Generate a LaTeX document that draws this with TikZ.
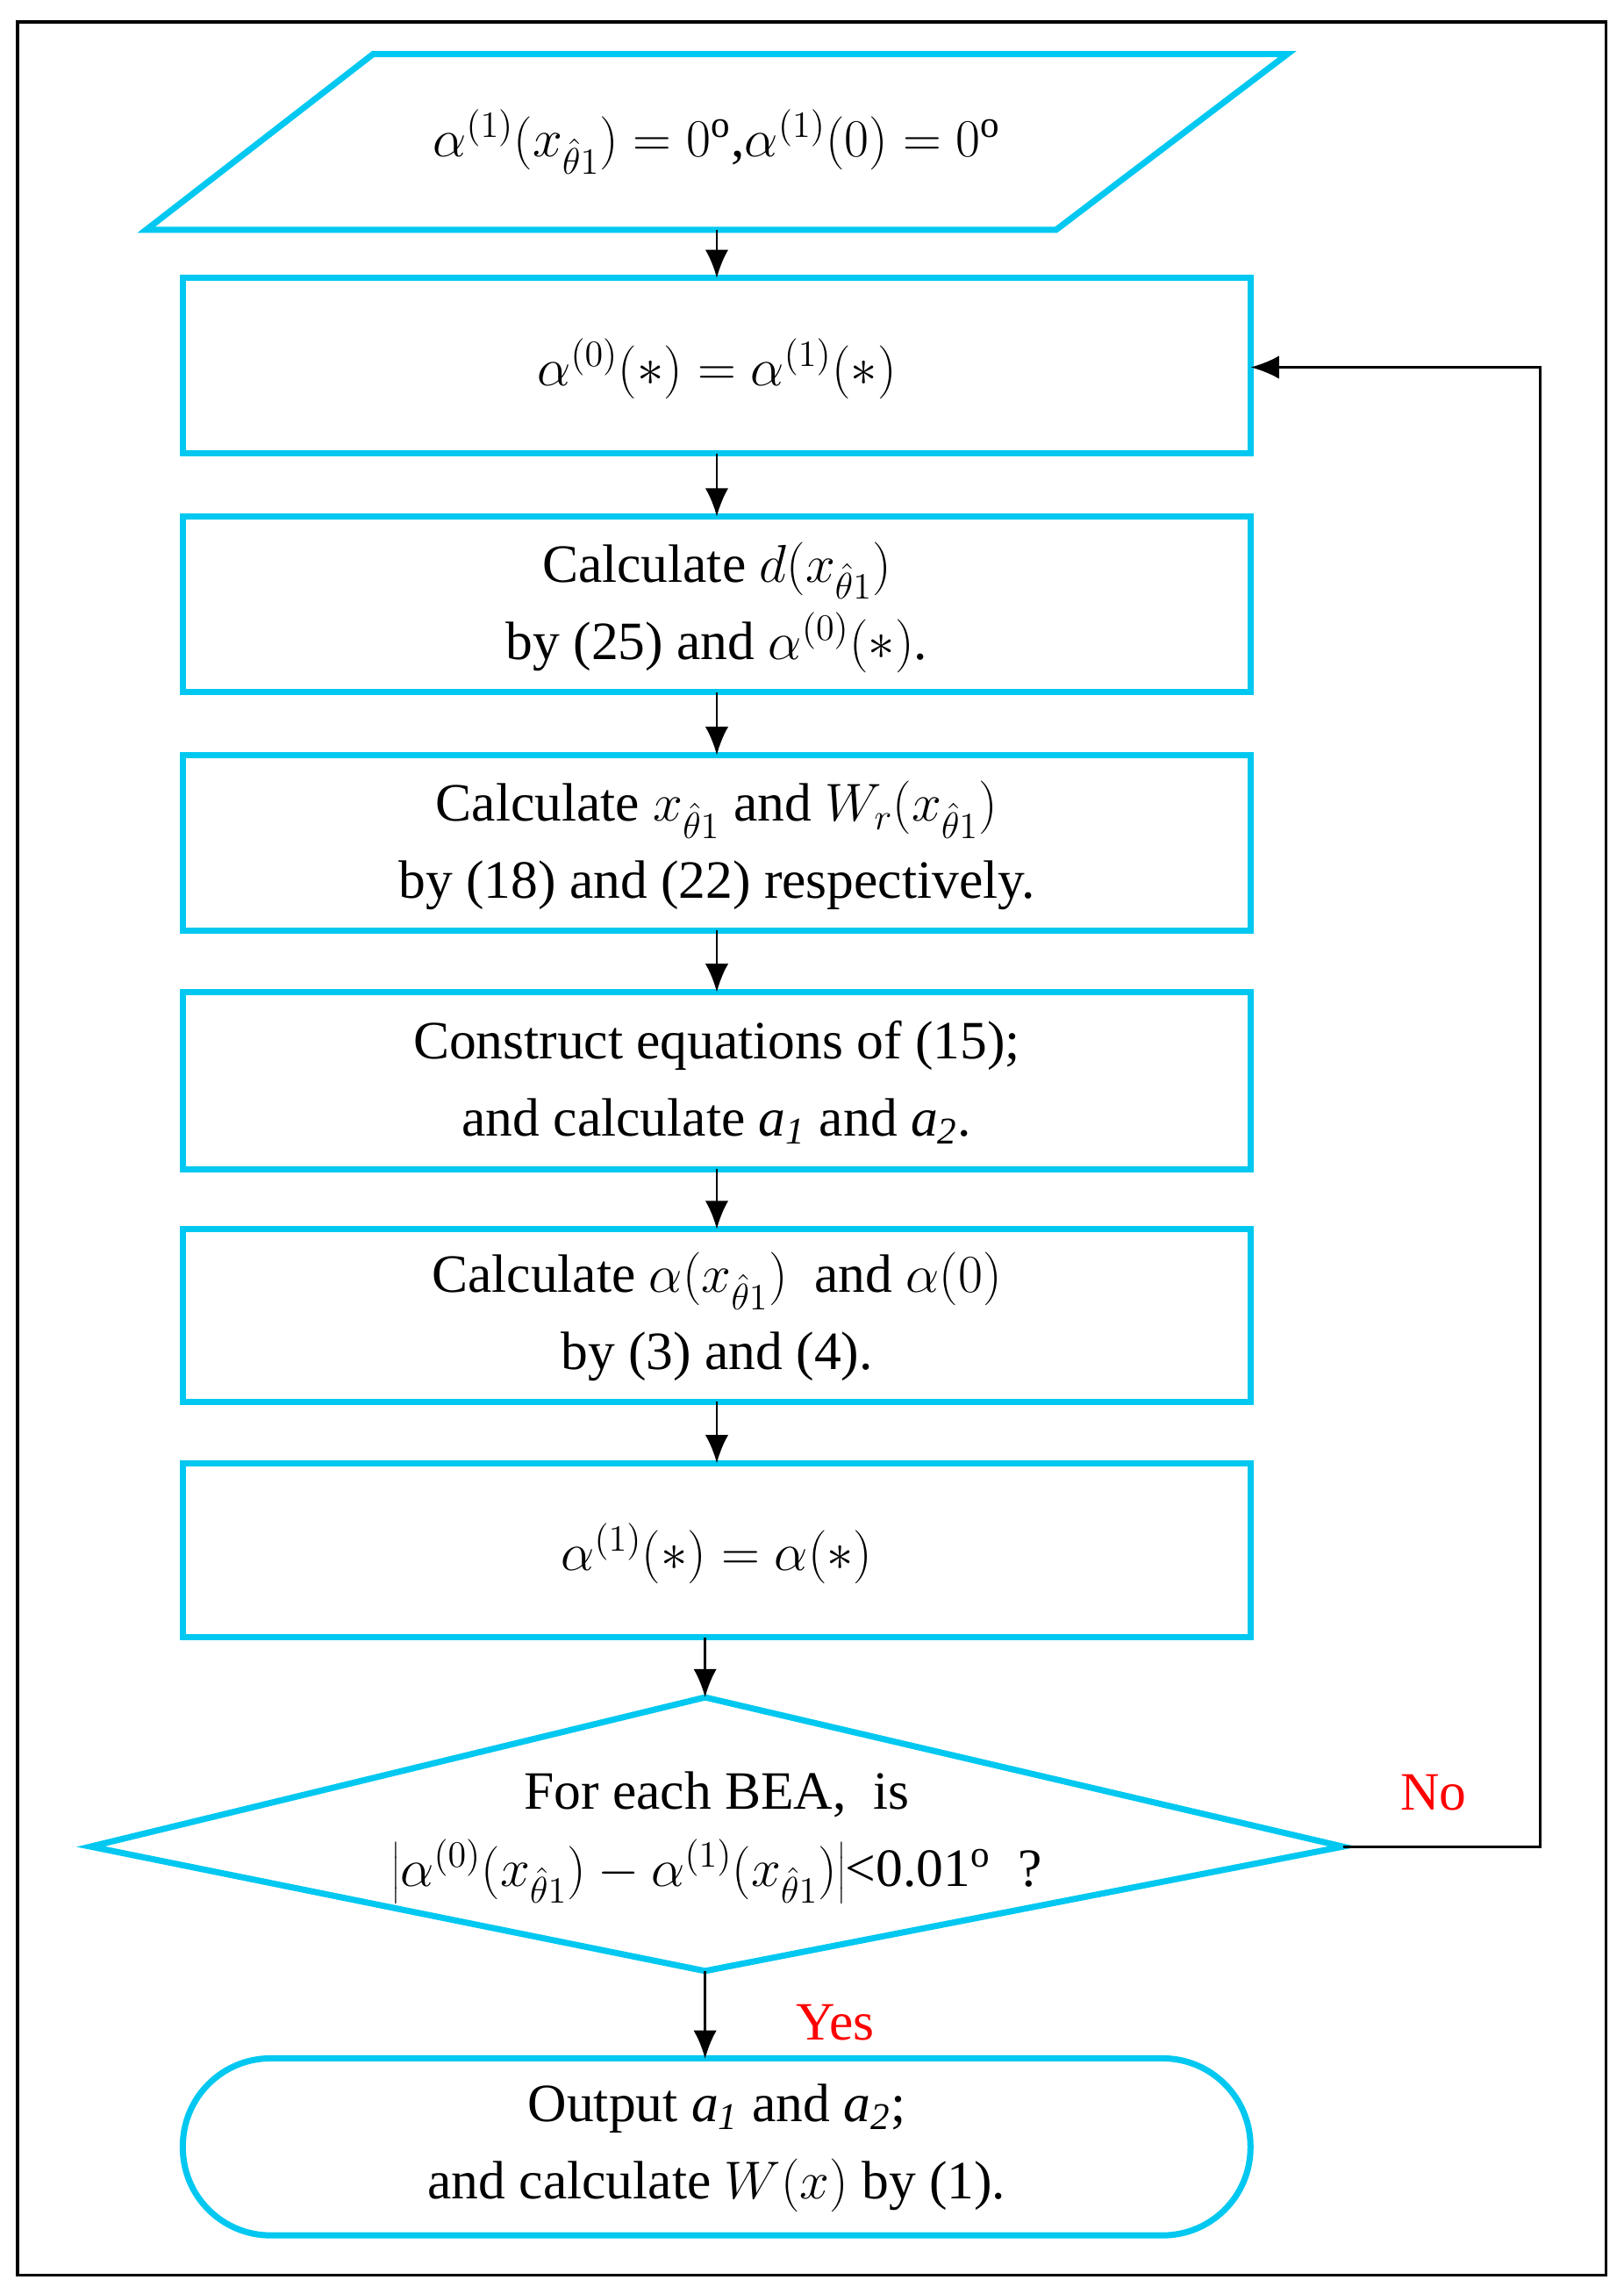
\documentclass[tikz,border=0pt]{standalone}
\usepackage{fontspec}
\setmainfont{Liberation Serif}
\usetikzlibrary{arrows.meta}
\definecolor{cy}{RGB}{0,200,240}
\begin{document}
\begin{tikzpicture}[x=0.02cm,y=-0.02cm,
  sh/.style={draw=cy,line width=2.4pt},
  ar/.style={-{Latex[length=11pt,width=9pt]},line width=1pt},
  tx/.style={font=\fontsize{21}{30}\selectfont,align=center}]
\useasboundingbox (0,0) rectangle (1110,1563);
\draw[line width=1.2pt] (12,15) rectangle (1098,1555);
\draw[sh] (255,37) -- (880,37) -- (722,157) -- (100,157) -- cycle;
\node[tx] (p) at (490,97) {$\alpha^{(1)}(x_{\hat\theta1})=0^{\mathrm o}$,$\alpha^{(1)}(0)=0^{\mathrm o}$};
\coordinate (pb) at (490,157);
\draw[sh] (125,190) rectangle (855,310); \coordinate (b1t) at (490,190); \coordinate (b1b) at (490,310); \coordinate (b1r) at (855,251);
\node[tx] at (490,252) {$\alpha^{(0)}(*)=\alpha^{(1)}(*)$};
\draw[sh] (125,353) rectangle (855,473); \coordinate (b2t) at (490,353); \coordinate (b2b) at (490,473);
\node[tx] at (490,415) {Calculate $d(x_{\hat\theta1})$\\ by (25) and $\alpha^{(0)}(*)$.};
\draw[sh] (125,516) rectangle (855,636); \coordinate (b3t) at (490,516); \coordinate (b3b) at (490,636);
\node[tx] at (490,578) {Calculate $x_{\hat\theta1}$ and $W_r(x_{\hat\theta1})$\\ by (18) and (22) respectively.};
\draw[sh] (125,678) rectangle (855,799); \coordinate (b4t) at (490,678); \coordinate (b4b) at (490,799);
\node[tx] at (490,740) {Construct equations of (15);\\ and calculate \textit{a\textsubscript{1}} and \textit{a\textsubscript{2}}.};
\draw[sh] (125,840) rectangle (855,958); \coordinate (b5t) at (490,840); \coordinate (b5b) at (490,958);
\node[tx] at (490,900) {Calculate $\alpha(x_{\hat\theta1})$\ \ and $\alpha(0)$\\ by (3) and (4).};
\draw[sh] (125,1000) rectangle (855,1119); \coordinate (b6t) at (490,1000); \coordinate (b6b) at (482,1119);
\node[tx] at (490,1062) {$\alpha^{(1)}(*)=\alpha(*)$};
\draw[sh] (62,1262) -- (482,1160) -- (918,1262) -- (482,1347) -- cycle;
\coordinate (dt) at (482,1160); \coordinate (db) at (482,1347); \coordinate (dr) at (918,1262);
\node[tx] at (490,1256) {For each BEA,\ \ is\\ $\left|\alpha^{(0)}(x_{\hat\theta1})-\alpha^{(1)}(x_{\hat\theta1})\right|$<0.01$^{\mathrm o}$\ \ ?};
\draw[sh,rounded corners=1.2cm] (2.5cm,-30.56cm) rectangle (17.1cm,-28.14cm);
\coordinate (tt) at (482,1407);
\node[tx] at (490,1468) {Output \textit{a\textsubscript{1}} and \textit{a\textsubscript{2}};\\ and calculate $W(x)$ by (1).};
\node[tx,text=red] at (980,1225) {No};
\node[tx,text=red] at (571,1382) {Yes};
\draw[ar] (pb) -- (b1t);
\draw[ar] (b1b) -- (b2t);
\draw[ar] (b2b) -- (b3t);
\draw[ar] (b3b) -- (b4t);
\draw[ar] (b4b) -- (b5t);
\draw[ar] (b5b) -- (b6t);
\draw[ar] (b6b) -- (dt);
\draw[ar] (db) -- (tt);
\draw[ar] (dr) -- (1053,1262) -- (1053,251) -- (b1r);
\end{tikzpicture}
\end{document}
